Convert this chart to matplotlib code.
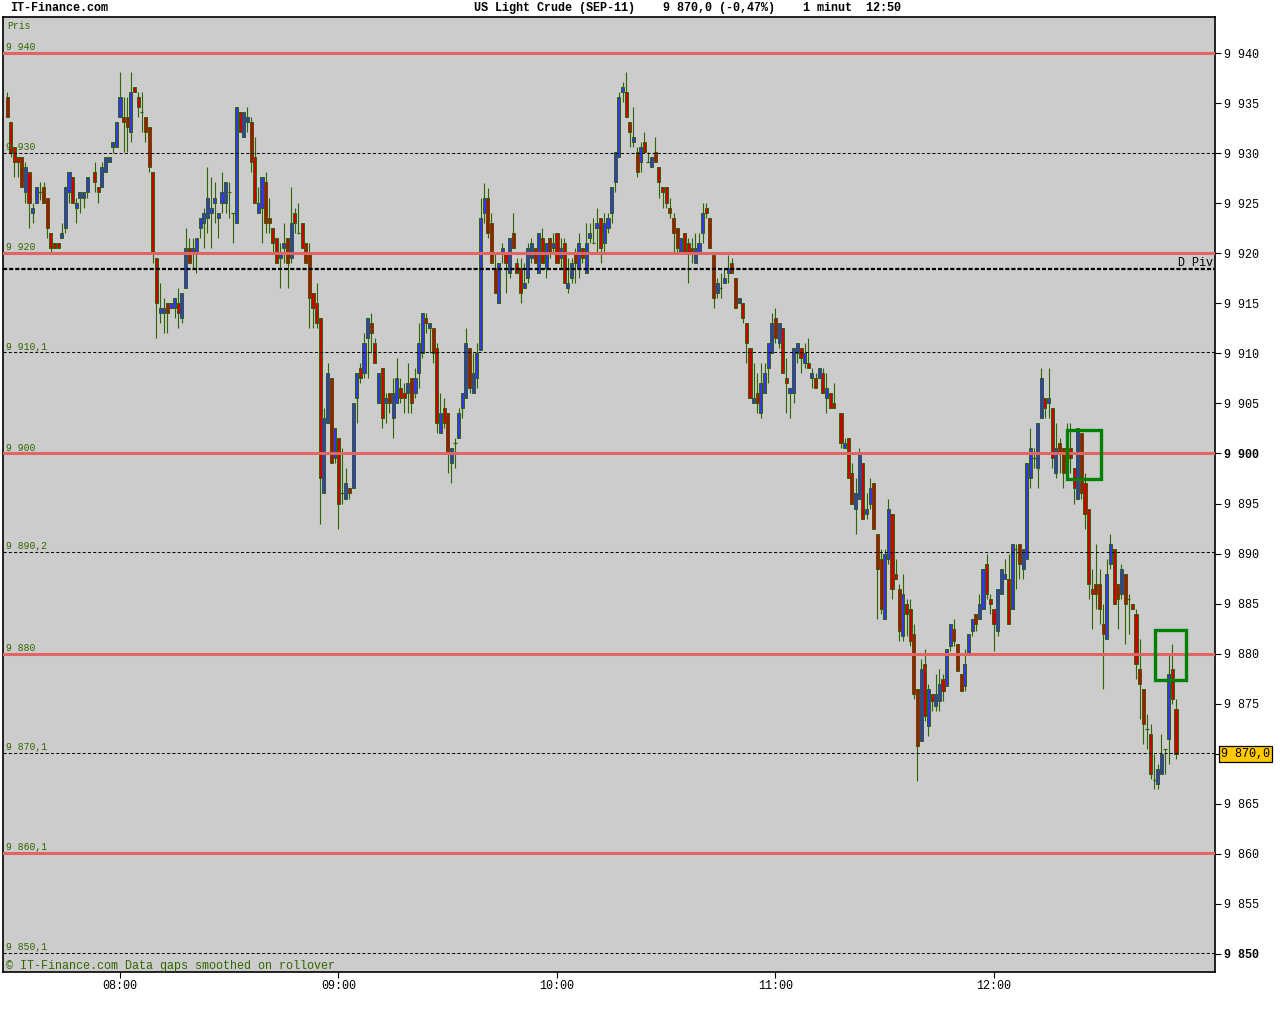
import numpy as np
import matplotlib
matplotlib.use("Agg")
import matplotlib.pyplot as plt
from matplotlib.patches import Rectangle

# ---------------- data ----------------
start_time = "07:29"          # time of the first one-minute candle
time_labels = ["08:00", "09:00", "10:00", "11:00", "12:00"]

opens = [
    9935.6, 9933.1, 9930.6, 9929.6, 9929.6, 9926.1, 9928.1, 9924.0, 9925.0, 9926.1,
    9926.6, 9925.5, 9922.0, 9921.0, 9921.0, 9921.5, 9922.5, 9926.1, 9927.6, 9924.5,
    9925.5, 9925.5, 9926.1, None,
    9928.1, 9926.6, 9926.6, 9928.1, 9929.1, 9930.6, 9930.6,
    9933.6, 9933.6, 9933.6, 9932.1, 9936.6, 9935.6, 9934.1, 9933.6, 9932.6, 9928.1,
    9919.5, 9914.0, 9914.0, 9915.0, 9914.5, 9914.5, 9915.0, 9913.5, 9916.5, 9920.5,
    9920.0, 9920.0, 9922.5, 9923.0, 9923.5, 9924.0, 9925.0, 9923.5, 9925.0, 9925.0,
    9926.1, 9924.0, 9923.0, 9934.1, 9931.6, 9933.1, 9933.1, 9929.6, 9924.0, 9924.5,
    9927.1, 9923.5, 9922.5, 9921.5, 9919.5, 9920.5, 9921.5, 9919.5, 9924.0, 9922.0,
    9923.0, 9921.0, 9920.0, 9916.0, 9915.0, 9913.5, 9896.0, 9903.0, 9907.5, 9899.5,
    9901.5, 9896.0, 9895.5, 9896.5, 9896.5, 9905.5, 9908.5, 9908.0, 9911.5, 9913.0,
    9911.0, 9905.0, 9908.5, 9905.0, 9906.0, 9903.5, 9905.0, 9906.5, 9906.0, 9906.0,
    9907.5, 9906.0, 9908.0, 9910.0, 9913.5, 9912.5, 9912.5, 9910.5, 9902.0, 9904.5,
    9904.0, 9899.0, 9901.0, 9901.5, 9904.5, 9905.5, 9910.5, 9906.0, 9907.5, 9910.3,
    9924.0, 9925.5, 9923.0, 9918.5, 9915.0, 9920.0, 9920.0, 9918.0, 9922.0, 9919.0,
    9918.5, 9916.5, 9917.5, 9919.5, 9920.5, 9918.0, 9921.5, 9918.5, 9921.5, 9920.5,
    9922.0, 9919.5, 9921.0, 9916.5, 9917.5, 9920.0, 9918.5, 9920.5, 9918.0, 9921.5,
    9921.0, 9922.5, 9923.5, 9921.0, 9922.5, 9924.0, 9927.1, 9929.6, 9936.1, 9936.1,
    9933.1, 9931.1, 9930.1, 9929.1, 9931.1, 9929.1, 9928.6, 9930.1, 9928.6, 9926.6,
    9926.6, 9924.5, 9923.5, 9922.5, 9920.1, 9922.0, 9921.0, 9920.5, 9919.0, 9920.1,
    9922.0, 9924.5, 9923.5, 9919.8, 9916.0, 9916.5, 9917.0, 9918.0, 9919.0, 9917.5,
    9915.0, 9915.0, 9913.0, 9910.5, 9905.0, 9906.0, 9904.0, 9906.0, 9908.5, 9910.0,
    9913.5, 9911.0, 9912.5, 9907.5, 9906.0, 9906.0, 9910.0, 9910.5, 9909.0, 9909.0,
    9907.5, 9907.5, 9907.5, 9908.0, 9905.5, 9906.0, 9905.0, None, 9904.0, 9900.5,
    9901.5, 9898.0, 9894.5, 9895.5, 9899.0, 9894.0, 9895.0, 9897.0, 9892.0, 9889.5,
    9883.5, 9889.5, 9894.0, 9888.0, 9886.5, 9881.8, 9885.0, 9884.5, 9882.0, 9876.5,
    9871.3, 9879.0, 9872.8, 9876.0, 9874.8, 9875.3, 9877.5, 9876.8, 9880.8, 9882.5,
    9881.0, 9878.0, 9876.8, 9880.0, 9882.3, 9884.0, 9883.5, 9884.5, 9889.0, 9885.5,
    9884.5, 9882.3, 9886.0, 9887.5, 9887.5, 9884.5, 9890.5, 9891.0, 9888.5, 9889.5,
    9897.5, 9899.5, 9898.5, 9903.5, 9905.5, 9905.0, 9904.5, 9898.0, 9901.0, 9900.5,
    9900.0, 9900.5, 9898.5, 9895.5, 9902.0, 9897.0, 9894.5, 9886.5, 9887.0, 9887.0,
    9883.0, 9881.5, 9889.0, 9890.5, 9887.0, 9886.0, 9888.0, 9885.5, 9885.0, 9884.0,
    9878.5, 9876.5, 9872.5, 9872.0, 9867.4, 9867.0, 9868.0, 9870.5, 9871.5, 9878.5, 9874.5,
]

highs = [
    9936.1, 9933.1, 9930.6, 9929.6, 9929.6, 9929.1, 9928.1, 9925.0, 9926.6, 9927.1,
    9927.1, 9925.5, 9922.0, 9921.0, 9921.0, 9923.0, 9926.6, 9928.1, 9927.6, 9925.5,
    9926.1, 9926.1, 9927.6, None,
    9929.1, 9926.6, 9929.1, 9929.6, 9929.6, 9931.1, 9933.1,
    9938.1, 9935.6, 9935.6, 9938.1, 9936.6, 9936.1, 9936.1, 9933.6, 9932.6, 9928.1,
    9919.5, 9917.0, 9915.5, 9915.0, 9915.0, 9915.5, 9916.5, 9916.0, 9922.5, 9921.5,
    9921.5, 9921.5, 9923.5, 9924.5, 9928.6, 9927.6, 9927.1, 9924.0, 9928.1, 9927.1,
    9927.1, 9924.0, 9934.6, 9934.1, 9934.1, 9934.6, 9933.6, 9931.6, 9926.6, 9927.6,
    9928.1, 9925.5, 9922.5, 9921.5, 9921.0, 9923.0, 9921.5, 9926.6, 9924.5, 9925.0,
    9923.0, 9921.0, 9921.0, 9916.0, 9917.0, 9913.5, 9904.5, 9909.0, 9907.5, 9902.5,
    9901.5, 9900.5, 9898.5, 9896.5, 9905.0, 9908.0, 9909.0, 9912.0, 9913.5, 9914.0,
    9911.5, 9908.0, 9908.5, 9906.0, 9906.0, 9907.5, 9909.5, 9907.5, 9907.0, 9909.0,
    9907.5, 9908.5, 9913.0, 9914.0, 9914.0, 9913.0, 9912.5, 9911.0, 9906.0, 9905.5,
    9904.0, 9900.5, 9901.5, 9904.5, 9906.0, 9912.5, 9910.5, 9910.0, 9911.0, 9925.5,
    9927.0, 9926.5, 9924.0, 9920.0, 9919.0, 9921.0, 9920.0, 9921.5, 9924.0, 9919.5,
    9919.5, 9919.0, 9921.0, 9921.5, 9920.5, 9922.0, 9922.5, 9921.0, 9921.5, 9922.0,
    9922.0, 9921.5, 9921.5, 9919.5, 9919.5, 9920.5, 9922.0, 9920.5, 9923.0, 9923.0,
    9923.5, 9924.5, 9923.5, 9924.0, 9924.0, 9926.6, 9930.1, 9936.1, 9937.1, 9938.1,
    9933.1, 9934.6, 9930.6, 9931.1, 9932.1, 9930.1, 9929.6, 9931.6, 9928.6, 9926.6,
    9926.6, 9925.5, 9924.0, 9922.5, 9921.5, 9922.0, 9921.5, 9921.5, 9922.0, 9922.0,
    9925.0, 9925.0, 9923.5, 9919.8, 9917.5, 9918.0, 9918.5, 9919.8, 9919.5, 9917.5,
    9915.5, 9915.0, 9913.0, 9910.5, 9909.0, 9908.0, 9909.0, 9909.0, 9911.0, 9914.0,
    9914.5, 9913.0, 9912.5, 9909.5, 9906.5, 9910.5, 9911.0, 9910.5, 9911.0, 9911.5,
    9908.5, 9908.0, 9908.5, 9908.5, 9908.0, 9906.0, 9907.0, None, 9904.0, 9901.5,
    9901.5, 9899.0, 9897.5, 9900.5, 9899.0, 9896.0, 9897.5, 9897.0, 9892.0, 9890.5,
    9890.5, 9895.5, 9894.0, 9889.5, 9887.0, 9888.0, 9885.5, 9885.5, 9883.0, 9876.5,
    9879.5, 9880.5, 9877.0, 9876.0, 9878.0, 9878.5, 9878.0, 9880.5, 9883.0, 9883.5,
    9881.0, 9878.0, 9880.5, 9882.0, 9883.5, 9884.0, 9886.0, 9888.5, 9890.0, 9886.0,
    9884.5, 9886.5, 9888.5, 9889.5, 9890.0, 9891.0, 9891.0, 9891.0, 9890.5, 9899.0,
    9902.5, 9900.5, 9903.0, 9908.5, 9905.5, 9908.5, 9904.5, 9903.0, 9901.5, 9900.5,
    9903.0, 9903.0, 9898.5, 9902.5, 9902.0, 9898.0, 9894.5, 9888.5, 9891.0, 9888.5,
    9885.0, 9889.5, 9892.0, 9890.5, 9887.0, 9889.0, 9888.0, 9886.0, 9885.0, 9884.5,
    9881.5, 9876.5, 9874.0, 9873.0, 9870.0, 9869.0, 9872.0, 9870.5, 9880.0, 9881.0, 9875.5,
]

lows = [
    9933.6, 9929.6, 9927.6, 9927.6, 9926.6, 9925.0, 9922.5, 9923.0, 9925.0, 9925.3,
    9925.0, 9921.5, 9920.1, 9920.5, 9920.5, 9921.5, 9922.0, 9925.0, 9925.0, 9923.0,
    9924.0, 9924.5, 9925.5, None,
    9926.1, 9925.0, 9926.6, 9928.1, 9929.1, 9930.0, 9930.6,
    9933.6, 9930.1, 9930.1, 9931.1, 9936.1, 9933.6, 9932.1, 9931.1, 9928.1, 9919.0,
    9911.5, 9913.0, 9912.0, 9912.0, 9914.5, 9913.5, 9912.5, 9913.0, 9916.5, 9919.0,
    9918.5, 9918.0, 9921.5, 9920.5, 9922.0, 9920.5, 9923.0, 9921.5, 9924.0, 9924.0,
    9923.5, 9921.0, 9923.0, 9932.1, 9931.6, 9932.1, 9928.1, 9925.0, 9924.0, 9921.0,
    9922.0, 9922.0, 9920.0, 9919.0, 9916.5, 9919.0, 9916.5, 9919.0, 9922.0, 9922.0,
    9920.5, 9919.0, 9912.5, 9912.5, 9912.5, 9893.0, 9896.0, 9903.0, 9899.0, 9899.0,
    9892.5, 9895.0, 9895.5, 9895.5, 9896.5, 9903.0, 9907.0, 9907.5, 9907.5, 9910.0,
    9909.0, 9905.0, 9902.5, 9903.0, 9904.0, 9901.5, 9905.0, 9905.0, 9904.0, 9904.0,
    9904.0, 9905.5, 9906.5, 9909.5, 9912.0, 9910.0, 9909.0, 9902.0, 9902.0, 9902.5,
    9898.0, 9897.0, 9898.5, 9901.5, 9903.5, 9905.5, 9906.0, 9906.0, 9906.5, 9910.3,
    9923.0, 9921.5, 9919.0, 9916.0, 9915.0, 9919.0, 9916.0, 9917.5, 9920.5, 9918.0,
    9915.0, 9916.5, 9917.0, 9919.0, 9919.0, 9918.0, 9919.0, 9917.5, 9919.5, 9920.0,
    9919.0, 9918.5, 9917.0, 9916.0, 9917.0, 9917.0, 9917.5, 9919.0, 9918.0, 9921.0,
    9921.0, 9920.0, 9919.0, 9920.0, 9922.0, 9923.0, 9926.1, 9929.6, 9935.1, 9933.6,
    9930.6, 9930.6, 9927.6, 9928.1, 9930.1, 9929.1, 9928.6, 9929.1, 9925.5, 9924.5,
    9924.5, 9923.5, 9920.1, 9920.1, 9920.1, 9920.1, 9917.0, 9919.0, 9919.0, 9920.1,
    9921.0, 9923.5, 9920.5, 9914.5, 9915.5, 9915.5, 9917.0, 9917.0, 9918.0, 9914.5,
    9915.0, 9913.0, 9909.0, 9905.5, 9905.0, 9904.0, 9903.5, 9906.0, 9907.0, 9910.0,
    9911.0, 9910.5, 9908.0, 9904.0, 9903.5, 9905.0, 9909.0, 9908.0, 9908.5, 9908.5,
    9906.5, 9906.5, 9907.5, 9906.0, 9904.0, 9904.5, 9904.5, None, 9900.5, 9900.5,
    9897.5, 9895.0, 9892.0, 9895.5, 9893.5, 9893.5, 9894.5, 9892.5, 9883.5, 9884.0,
    9883.5, 9889.0, 9885.5, 9887.5, 9881.3, 9881.3, 9881.8, 9880.8, 9875.5, 9867.3,
    9871.3, 9873.3, 9871.8, 9874.3, 9874.3, 9874.3, 9875.3, 9876.8, 9880.3, 9880.8,
    9878.3, 9876.3, 9876.3, 9880.0, 9881.8, 9882.3, 9883.5, 9884.5, 9885.5, 9884.0,
    9880.3, 9881.8, 9886.0, 9887.5, 9883.0, 9884.5, 9886.5, 9887.5, 9887.5, 9889.5,
    9896.5, 9898.5, 9896.5, 9903.5, 9903.5, 9903.5, 9898.5, 9897.5, 9898.0, 9896.5,
    9897.5, 9898.0, 9895.0, 9895.5, 9895.5, 9892.5, 9885.5, 9882.5, 9884.5, 9883.0,
    9876.5, 9881.5, 9888.5, 9885.0, 9882.5, 9885.5, 9881.0, 9882.0, 9884.5, 9877.5,
    9873.5, 9871.0, 9870.5, 9867.5, 9866.5, 9866.5, 9868.0, 9868.0, 9869.0, 9875.0, 9869.5,
]

closes = [
    9933.6, 9930.0, 9929.1, 9929.1, 9926.6, 9928.6, 9925.0, 9924.5, 9926.6, 9926.1,
    9925.0, 9922.5, 9920.5, 9920.5, 9920.5, 9922.0, 9926.6, 9928.1, 9925.0, 9925.0,
    9926.1, 9926.1, 9927.6, None,
    9927.1, 9926.1, 9928.6, 9929.6, 9929.6, 9931.1, 9933.1,
    9935.6, 9933.1, 9932.6, 9936.1, 9936.1, 9934.6, 9934.1, 9932.1, 9928.6, 9920.1,
    9915.0, 9914.5, 9914.5, 9914.0, 9915.0, 9915.5, 9914.0, 9916.0, 9920.5, 9919.0,
    9920.5, 9921.5, 9923.5, 9924.0, 9925.5, 9924.5, 9925.5, 9924.0, 9926.1, 9927.1,
    9926.1, 9924.0, 9934.6, 9932.1, 9934.1, 9933.6, 9929.1, 9925.0, 9925.0, 9927.6,
    9923.0, 9923.0, 9921.0, 9919.0, 9920.0, 9921.0, 9919.0, 9923.0, 9923.0, 9922.0,
    9920.5, 9919.0, 9915.5, 9914.5, 9913.0, 9897.5, 9903.5, 9908.0, 9899.0, 9902.5,
    9895.0, 9896.0, 9897.0, 9896.0, 9905.0, 9908.0, 9907.5, 9911.0, 9913.5, 9912.0,
    9909.0, 9908.0, 9903.5, 9905.5, 9905.0, 9906.0, 9907.5, 9905.5, 9905.5, 9907.0,
    9905.0, 9907.5, 9911.0, 9914.0, 9913.0, 9913.0, 9910.0, 9903.0, 9904.0, 9903.0,
    9900.0, 9900.5, 9901.0, 9904.0, 9906.0, 9911.0, 9906.5, 9908.0, 9910.0, 9923.5,
    9925.5, 9922.0, 9919.0, 9916.0, 9919.0, 9920.5, 9919.0, 9921.5, 9920.5, 9918.0,
    9916.0, 9917.0, 9920.5, 9921.0, 9919.0, 9922.0, 9919.0, 9921.0, 9920.0, 9921.0,
    9919.0, 9920.5, 9917.0, 9917.0, 9919.0, 9919.0, 9921.0, 9919.5, 9921.0, 9922.0,
    9921.0, 9923.0, 9920.5, 9923.0, 9923.5, 9926.6, 9930.1, 9935.6, 9936.6, 9933.6,
    9932.1, 9931.6, 9928.1, 9930.6, 9930.1, 9929.1, 9929.6, 9929.1, 9927.1, 9926.1,
    9925.0, 9924.0, 9922.0, 9920.5, 9921.5, 9920.1, 9920.1, 9920.0, 9920.5, 9921.0,
    9924.0, 9924.0, 9920.5, 9915.5, 9917.0, 9916.5, 9917.5, 9918.5, 9918.0, 9914.5,
    9915.5, 9913.5, 9911.0, 9905.5, 9905.5, 9905.0, 9907.0, 9908.0, 9911.0, 9913.0,
    9911.5, 9913.0, 9908.0, 9907.0, 9906.5, 9910.5, 9911.0, 9909.5, 9910.0, 9908.5,
    9908.0, 9906.5, 9908.5, 9906.0, 9906.5, 9904.5, 9904.5, None, 9901.0, 9901.0,
    9897.5, 9895.0, 9896.0, 9900.0, 9893.5, 9894.5, 9896.5, 9892.5, 9888.5, 9884.5,
    9890.0, 9894.5, 9886.5, 9887.5, 9882.3, 9886.0, 9884.0, 9881.3, 9876.0, 9870.8,
    9878.5, 9873.8, 9876.5, 9875.3, 9876.0, 9877.0, 9876.3, 9880.5, 9883.0, 9881.3,
    9878.3, 9876.3, 9879.0, 9882.0, 9883.5, 9883.0, 9885.0, 9888.5, 9886.0, 9885.0,
    9883.0, 9886.5, 9888.5, 9888.0, 9883.0, 9891.0, 9890.5, 9889.0, 9890.5, 9899.0,
    9900.5, 9899.5, 9903.0, 9907.5, 9904.5, 9905.5, 9899.5, 9900.5, 9900.0, 9898.0,
    9900.5, 9899.5, 9896.5, 9902.5, 9896.0, 9894.0, 9887.0, 9886.0, 9886.0, 9884.5,
    9882.0, 9888.0, 9891.0, 9885.0, 9885.5, 9888.5, 9885.0, 9885.5, 9884.5, 9879.0,
    9877.0, 9873.0, 9872.5, 9868.0, 9867.4, 9868.5, 9870.0, 9870.5, 9878.0, 9875.5, 9870.0,
]

red_levels = [9940.0, 9920.0, 9900.0, 9880.0, 9860.1]
dashed_levels = [9930.0, 9910.1, 9890.2, 9870.1, 9850.1]
pivot_level = 9918.4
pivot_label = "D Piv"
last_price = 9870.0
price_ticks = list(range(9850, 9945, 5))
bold_ticks = [9900, 9850]
# highlight boxes: (first candle index, last candle index, low price, high price)
highlight_boxes = [(291.1, 300.5, 9897.4, 9902.3), (315.1, 323.8, 9877.4, 9882.4)]

title = "US Light Crude (SEP-11)    9 870,0 (-0,47%)    1 minut  12:50"
site = "IT-Finance.com"
footer = "\u00a9 IT-Finance.com Data gaps smoothed on rollover"

assert len(opens) == len(highs) == len(lows) == len(closes)

# ---------------- style ----------------
plt.rcParams['font.family'] = ['Liberation Mono', 'DejaVu Sans Mono']
plt.rcParams['lines.scale_dashes'] = False

BG = '#cccccc'
WICK = '#2f6400'
BLUE = '#3535ee'
RED = '#cc0000'
LEVEL_RED = '#e06666'
TXT_GREEN = '#336600'


def fmt_price(v, decimals=None):
    if decimals is None:
        decimals = 0 if abs(v - round(v)) < 1e-9 else 1
    whole = int(v)
    s = f"{whole // 1000} {whole % 1000:03d}"
    if decimals:
        s += "," + f"{v:.{decimals}f}".split(".")[1]
    return s


def to_min(t):
    hh, mm = t.split(":")
    return int(hh) * 60 + int(mm)


W, H = 1280, 1024
fig = plt.figure(figsize=(W / 100, H / 100), dpi=100, facecolor='white')
ax = fig.add_axes([3 / W, 52 / H, 1212 / W, 955 / H])
ax.set_facecolor(BG)

o = np.array(opens, dtype=float)
h = np.array(highs, dtype=float)
l = np.array(lows, dtype=float)
c = np.array(closes, dtype=float)
idx = np.arange(len(o))
valid = ~np.isnan(o)

ax.vlines(idx[valid], l[valid], h[valid], color=WICK, lw=0.8, zorder=2)
up = valid & (c > o)
dn = valid & (c < o)
dj = valid & (c == o)
ax.bar(idx[up], (c - o)[up], bottom=o[up], width=0.85, color=BLUE,
       edgecolor=WICK, linewidth=0.7, zorder=3)
ax.bar(idx[dn], (o - c)[dn], bottom=c[dn], width=0.85, color=RED,
       edgecolor=WICK, linewidth=0.7, zorder=3)
ax.hlines(o[dj], idx[dj] - 0.45, idx[dj] + 0.45, color=WICK, lw=0.9, zorder=3)

# level lines
for v in red_levels:
    ax.axhline(v, color=LEVEL_RED, lw=2.2, zorder=4)
for v in dashed_levels:
    ax.axhline(v, color='black', lw=0.75, dashes=(2.2, 1.6), zorder=4)
ax.axhline(pivot_level, color='black', lw=1.6, dashes=(3.0, 1.4), zorder=4)

for v in sorted(red_levels + dashed_levels, reverse=True):
    ax.annotate(fmt_price(v), xy=(0, v), xycoords=('axes fraction', 'data'),
                xytext=(2.2, 2.0), textcoords='offset points',
                ha='left', va='baseline', fontsize=7, color=TXT_GREEN, zorder=5)

ax.annotate(pivot_label, xy=(1, pivot_level), xycoords=('axes fraction', 'data'),
            xytext=(-1.5, 2.0), textcoords='offset points',
            ha='right', va='baseline', fontsize=8.5, color='black', zorder=5)

ax.text(4 / 1212, 1 - 4 / 955, "Pris", transform=ax.transAxes, ha='left', va='top',
        fontsize=7, color=TXT_GREEN)

for (x0, x1, p0, p1) in highlight_boxes:
    ax.add_patch(Rectangle((x0, p0), x1 - x0, p1 - p0, fill=False,
                           edgecolor='#008000', lw=2.4, zorder=6))

# axes limits
ax.set_xlim(-1.13, 331.7)
ax.set_ylim(9848.2, 9943.6)

# x ticks
t0 = to_min(start_time)
ax.set_xticks([to_min(t) - t0 for t in time_labels])
ax.set_xticklabels(time_labels)
ax.tick_params(axis='x', length=4, width=0.8, pad=2, labelsize=8.5, colors='black')

# y ticks on the right (the last-price box covers its own tick label)
ax.yaxis.tick_right()
ax.set_yticks(price_ticks)
ax.set_yticklabels(["" if abs(v - last_price) < 1e-9 else fmt_price(v)
                    for v in price_ticks])
ax.tick_params(axis='y', length=4.5, width=0.8, pad=2, labelsize=8.5,
               right=True, left=False)
for lab, v in zip(ax.get_yticklabels(), price_ticks):
    if v in bold_ticks:
        lab.set_fontweight('bold')

for sp in ax.spines.values():
    sp.set_color('black')
    sp.set_linewidth(1.2)

# current price box
ax.annotate(fmt_price(last_price, 1), xy=(1, last_price),
            xycoords=('axes fraction', 'data'), xytext=(4.5, 0),
            textcoords='offset points', ha='left', va='center', fontsize=8.5,
            color='black', annotation_clip=False,
            bbox=dict(boxstyle='square,pad=0.15', facecolor='#ffc800',
                      edgecolor='black', lw=0.9))

# header / footer texts
fig.text(10 / W, 1 - 8 / H, site, ha='left', va='center', fontsize=8.5,
         fontweight='bold', color='black')
fig.text(474 / W, 1 - 8 / H, title, ha='left', va='center', fontsize=8.5,
         fontweight='bold', color='black')
fig.text(6 / W, 1 - 966 / H, footer, ha='left', va='center', fontsize=8.5,
         color=TXT_GREEN)

fig.savefig('out.png', dpi=100, facecolor='white')
